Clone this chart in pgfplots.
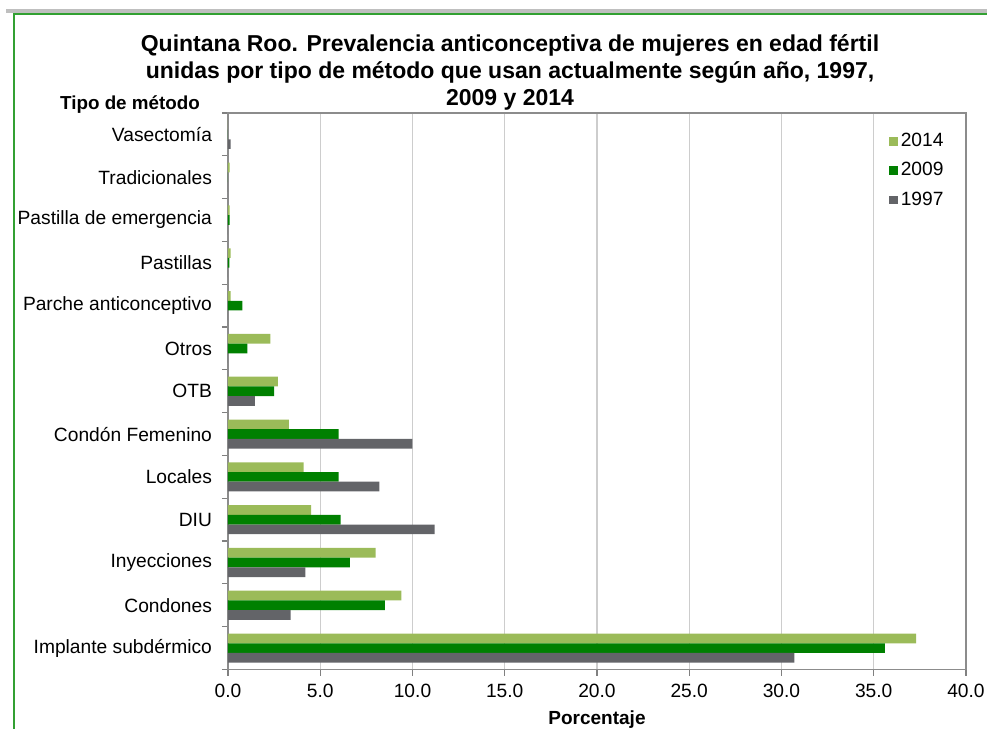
\documentclass[border=0pt]{standalone}
\usepackage{pgfplots}
\pgfplotsset{compat=1.18}
\usepackage{fontspec}
\setmainfont{Liberation Sans}

\definecolor{c2014}{RGB}{155,187,89}
\definecolor{c2009}{RGB}{0,128,0}
\definecolor{c1997}{RGB}{99,100,104}
\definecolor{gridc}{RGB}{205,205,205}
\definecolor{framegreen}{RGB}{50,160,50}

\begin{document}
\begin{tikzpicture}
% page = 987x729 px at 0.5pt per px
\path[use as bounding box] (0,0) rectangle (493.5pt,-364.5pt);
\fill[black!25] (3pt,-4.5pt) rectangle (493.5pt,-6.6pt);
\draw[framegreen, line width=0.8pt] (6.9pt,-364.5pt) -- (6.9pt,-7pt) -- (493.5pt,-7pt);

\node[align=center, font=\bfseries\fontsize{11.5}{13.5}\selectfont] at (255pt,-36.2pt)
  {Quintana Roo. Prevalencia anticonceptiva de mujeres en edad fértil\\
   unidas por tipo de método que usan actualmente según año, 1997,\\
   2009 y 2014};
\node[font=\bfseries\fontsize{9.4}{11}\selectfont] at (65pt,-52.5pt) {Tipo de método};

\begin{axis}[
    at={(114pt,-334.75pt)}, anchor=south west,
    scale only axis, width=369pt, height=278.25pt,
    xmin=0, xmax=40, ymin=-0.5, ymax=12.5,
    xtick={0,5,...,40},
    xticklabel={\pgfmathprintnumber[fixed,fixed zerofill,precision=1]{\tick}},
    /pgf/number format/assume math mode=true,
    ytick={-0.5,0.5,...,12.5},
    yticklabels={},
    extra y ticks={0,...,12},
    extra y tick labels={Implante subdérmico, Condones, Inyecciones, DIU, Locales,
      Condón Femenino, OTB, Otros, Parche anticonceptivo, Pastillas,
      Pastilla de emergencia, Tradicionales, Vasectomía},
    extra y tick style={major tick length=0pt, yticklabel style={xshift=-4.5pt}},
    major tick length=3pt,
    tick align=outside, tick pos=left,
    tick style={draw=black!50, line width=0.6pt},
    xmajorgrids, grid style={gridc, line width=0.6pt},
    axis line style={draw=black!45, line width=0.6pt},
    tick label style={font=\fontsize{9.6}{11}\selectfont},
    xticklabel style={yshift=-1pt},
    xlabel={Porcentaje},
    xlabel style={font=\bfseries\fontsize{9.5}{11}\selectfont, yshift=0.5pt},
    legend style={at={(axis cs:35.5,12.2)}, anchor=north west, draw=none, fill=none,
      font=\fontsize{9.6}{11}\selectfont, row sep=3.4pt,
      nodes={inner sep=1.5pt}},
    legend image code/.code={\fill[#1] (0.5pt,-2.1pt) rectangle (4.7pt,2.1pt);},
    legend cell align=left,
]
\addplot[xbar, fill=c2014, draw=none, bar width=4.85pt, bar shift=4.85pt]
coordinates {(37.3,0) (9.4,1) (8.0,2) (4.5,3) (4.1,4) (3.3,5) (2.7,6) (2.3,7)
  (0.14,8) (0.14,9) (0.09,10) (0.09,11) (0,12)};
\addlegendentry{2014}
\addplot[xbar, fill=c2009, draw=none, bar width=4.85pt, bar shift=0pt]
coordinates {(35.6,0) (8.5,1) (6.6,2) (6.1,3) (6.0,4) (6.0,5) (2.5,6) (1.05,7)
  (0.78,8) (0.07,9) (0.09,10) (0,11) (0,12)};
\addlegendentry{2009}
\addplot[xbar, fill=c1997, draw=none, bar width=4.85pt, bar shift=-4.85pt]
coordinates {(30.7,0) (3.4,1) (4.2,2) (11.2,3) (8.2,4) (10.0,5) (1.45,6) (0,7)
  (0,8) (0,9) (0,10) (0,11) (0.14,12)};
\addlegendentry{1997}
\end{axis}
\end{tikzpicture}
\end{document}
